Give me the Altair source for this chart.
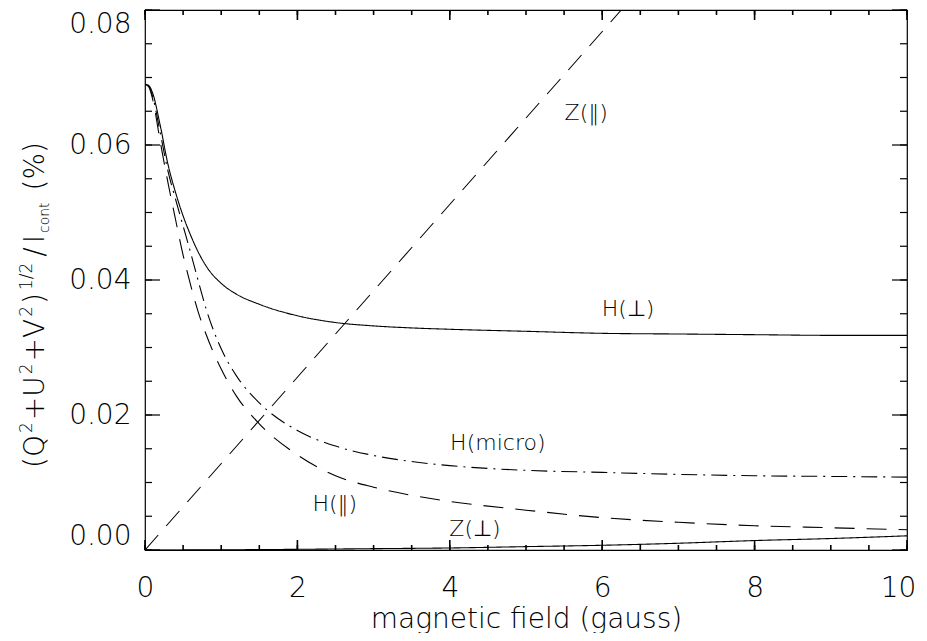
import altair as alt
import pandas as pd

# ---------------- data ----------------
B = [0, 0.05, 0.1, 0.2, 0.3, 0.4, 0.5, 0.6, 0.7, 0.8, 1.0, 1.2, 1.5, 2.0,
     2.5, 3.0, 3.5, 4.0, 5.0, 6.0, 7.0, 8.0, 9.0, 10.0]
H_perp = [0.0690, 0.0688, 0.0677, 0.0629, 0.0572, 0.0530, 0.0495, 0.0466,
          0.0441, 0.0421, 0.0395, 0.0379, 0.0364, 0.0347, 0.0337, 0.0332,
          0.0329, 0.0327, 0.0324, 0.0321, 0.0320, 0.0319, 0.0318, 0.0318]
H_micro = [0.0690, 0.0687, 0.0672, 0.0618, 0.0562, 0.0520, 0.0480, 0.0440,
           0.0398, 0.0358, 0.0298, 0.0258, 0.0218, 0.0177, 0.0154, 0.0140,
           0.0131, 0.0125, 0.0118, 0.0115, 0.0112, 0.0110, 0.0109, 0.0108]
H_par = [0.0690, 0.0686, 0.0668, 0.0605, 0.0545, 0.0490, 0.0437, 0.0392,
         0.0352, 0.0320, 0.0268, 0.0228, 0.0187, 0.0141, 0.0110, 0.0093,
         0.0081, 0.0072, 0.0059, 0.0048, 0.0041, 0.0036, 0.0033, 0.0030]
Z_perp_B = [0, 1, 2, 3, 4, 5, 6, 7, 8, 9, 10]
Z_perp = [0.0, 0.00003, 0.0001, 0.0002, 0.0003, 0.0005, 0.0007, 0.0010,
          0.0014, 0.0017, 0.0021]
Z_par_B = [0, 6.25]
Z_par = [0.0, 0.080]

series_names = ["H_perp", "H_micro", "H_par", "Z_perp", "Z_par"]
series_dash = [[1, 0], [16, 6, 2, 6], [20, 12], [1, 0], [20, 12]]

label_text = ["Z(‖)", "H(⊥)", "H(micro)", "H(‖)", "Z(⊥)"]
label_x = [5.79, 6.34, 4.63, 2.49, 4.33]
label_y = [0.0647, 0.0357, 0.0158, 0.0068, 0.0031]

x_major = [0, 2, 4, 6, 8, 10]
x_minor = [i * 0.5 for i in range(21)]
y_major = [0.0, 0.02, 0.04, 0.06, 0.08]
y_minor = [i * 0.005 for i in range(17)]

x_title = "magnetic field (gauss)"
# y title pieces: (text, font size, baseline shift)
y_title_pieces = [("(Q", 28, 0), ("2", 17, -12), ("+U", 28, 0), ("2", 17, -12),
                  ("+V", 28, 0), ("2", 17, -12), (")", 28, 0), ("1/2", 17, -12),
                  ("/", 28, 0), ("I", 28, 0), ("cont", 14, 5), ("(%)", 28, 0)]
y_title_gaps = [2, 2, 2, 2, 2, 2, 3, 6, 4, 2, 12, 0]

FONT = "DejaVu Sans"
FW = 200
W, H = 762, 540
X_MAX, Y_MAX = 10.0, 0.08
PXX = X_MAX / W  # data units per pixel, x
PXY = Y_MAX / H  # data units per pixel, y

# ---------------- build tables ----------------
rows = []
for b, v in zip(B, H_perp):
    rows.append({"series": "H_perp", "B": b, "value": v})
for b, v in zip(B, H_micro):
    rows.append({"series": "H_micro", "B": b, "value": v})
for b, v in zip(B, H_par):
    rows.append({"series": "H_par", "B": b, "value": v})
for b, v in zip(Z_perp_B, Z_perp):
    rows.append({"series": "Z_perp", "B": b, "value": v})
for b, v in zip(Z_par_B, Z_par):
    rows.append({"series": "Z_par", "B": b, "value": v})
df = pd.DataFrame(rows)
lab_df = pd.DataFrame({"label": label_text, "x": label_x, "y": label_y})

# inward tick marks (tick value + tick length)
xt_rows = []
for vals, ln in ((x_minor, 5), (x_major, 10)):
    for v in vals:
        xt_rows.append({"x": v, "y": 0.0, "y2": ln * PXY})
        xt_rows.append({"x": v, "y": Y_MAX, "y2": Y_MAX - ln * PXY})
xt_df = pd.DataFrame(xt_rows)
yt_rows = []
for vals, ln in ((y_minor, 7), (y_major, 15)):
    for v in vals:
        yt_rows.append({"y": v, "x": 0.0, "x2": ln * PXX})
        yt_rows.append({"y": v, "x": X_MAX, "x2": X_MAX - ln * PXX})
yt_df = pd.DataFrame(yt_rows)

x_scale = alt.Scale(domain=[0, X_MAX], nice=False, zero=False)
y_scale = alt.Scale(domain=[0, Y_MAX], nice=False, zero=False)

lines = alt.Chart(df).mark_line(color="black", strokeWidth=1.1, clip=True,
                                interpolate="monotone").encode(
    x=alt.X("B:Q", scale=x_scale,
            axis=alt.Axis(orient="bottom", values=x_major, format="d", ticks=False,
                          tickSize=0, domain=False, grid=False, labelFontSize=28,
                          labelFont=FONT, labelFontWeight=FW, labelColor="black",
                          labelPadding=24, labelFlush=False,
                          labelOffset={"condition": {"test": "datum.value === 10",
                                                     "value": -9}, "value": 0},
                          title=x_title, titleFontSize=28, titleFont=FONT,
                          titleFontWeight=FW, titleColor="black", titlePadding=3)),
    y=alt.Y("value:Q", scale=y_scale,
            axis=alt.Axis(orient="left", values=y_major, format=".2f", ticks=False,
                          tickSize=0, domain=False, grid=False, labelFontSize=28,
                          labelFont=FONT, labelFontWeight=FW, labelColor="black",
                          labelPadding=14, labelFlush=True, title=None)),
    strokeDash=alt.StrokeDash("series:N",
                              scale=alt.Scale(domain=series_names, range=series_dash),
                              legend=None),
)

x_ticks = alt.Chart(xt_df).mark_rule(color="black", strokeWidth=1.6).encode(
    x=alt.X("x:Q", scale=x_scale, axis=None),
    y=alt.Y("y:Q", scale=y_scale, axis=None), y2="y2:Q",
)
y_ticks = alt.Chart(yt_df).mark_rule(color="black", strokeWidth=1.2).encode(
    x=alt.X("x:Q", scale=x_scale, axis=None), x2="x2:Q",
    y=alt.Y("y:Q", scale=y_scale, axis=None),
)

labels = alt.Chart(lab_df).mark_text(font=FONT, fontWeight=FW, fontSize=22,
                                     color="black", align="center",
                                     baseline="middle").encode(
    x=alt.X("x:Q", scale=x_scale, axis=None),
    y=alt.Y("y:Q", scale=y_scale, axis=None),
    text="label:N",
)

layers = [lines, x_ticks, y_ticks, labels]

# y axis title assembled from pieces (rotated text)
em = {"(": .390, ")": .390, "Q": .787, "+": .838, "U": .732, "V": .684,
      "1": .636, "2": .636, "/": .337, "I": .295, "c": .550, "o": .612,
      "n": .634, "t": .392, " ": .318, "%": .950}
ypos = 458.0
base_x = -101
for (txt, fs, shift), gap in zip(y_title_pieces, y_title_gaps):
    w = sum(em[c] for c in txt) * fs
    piece = alt.Chart(pd.DataFrame({"t": [txt]})).mark_text(
        font=FONT, fontWeight=FW, fontSize=fs, color="black", angle=270,
        align="left", baseline="alphabetic").encode(
        text="t:N", x=alt.value(base_x + shift), y=alt.value(ypos))
    layers.append(piece)
    ypos -= w + gap

chart = alt.layer(*layers).resolve_axis(x="independent", y="independent").properties(
    width=W, height=H,
    padding={"left": 137, "top": 2, "right": 12, "bottom": 83},
    autosize=alt.AutoSizeParams(type="none"),
    background="white",
).configure_view(stroke="black", strokeWidth=1.2)

chart.save("out.html", embed_options={"renderer": "svg", "actions": False})
